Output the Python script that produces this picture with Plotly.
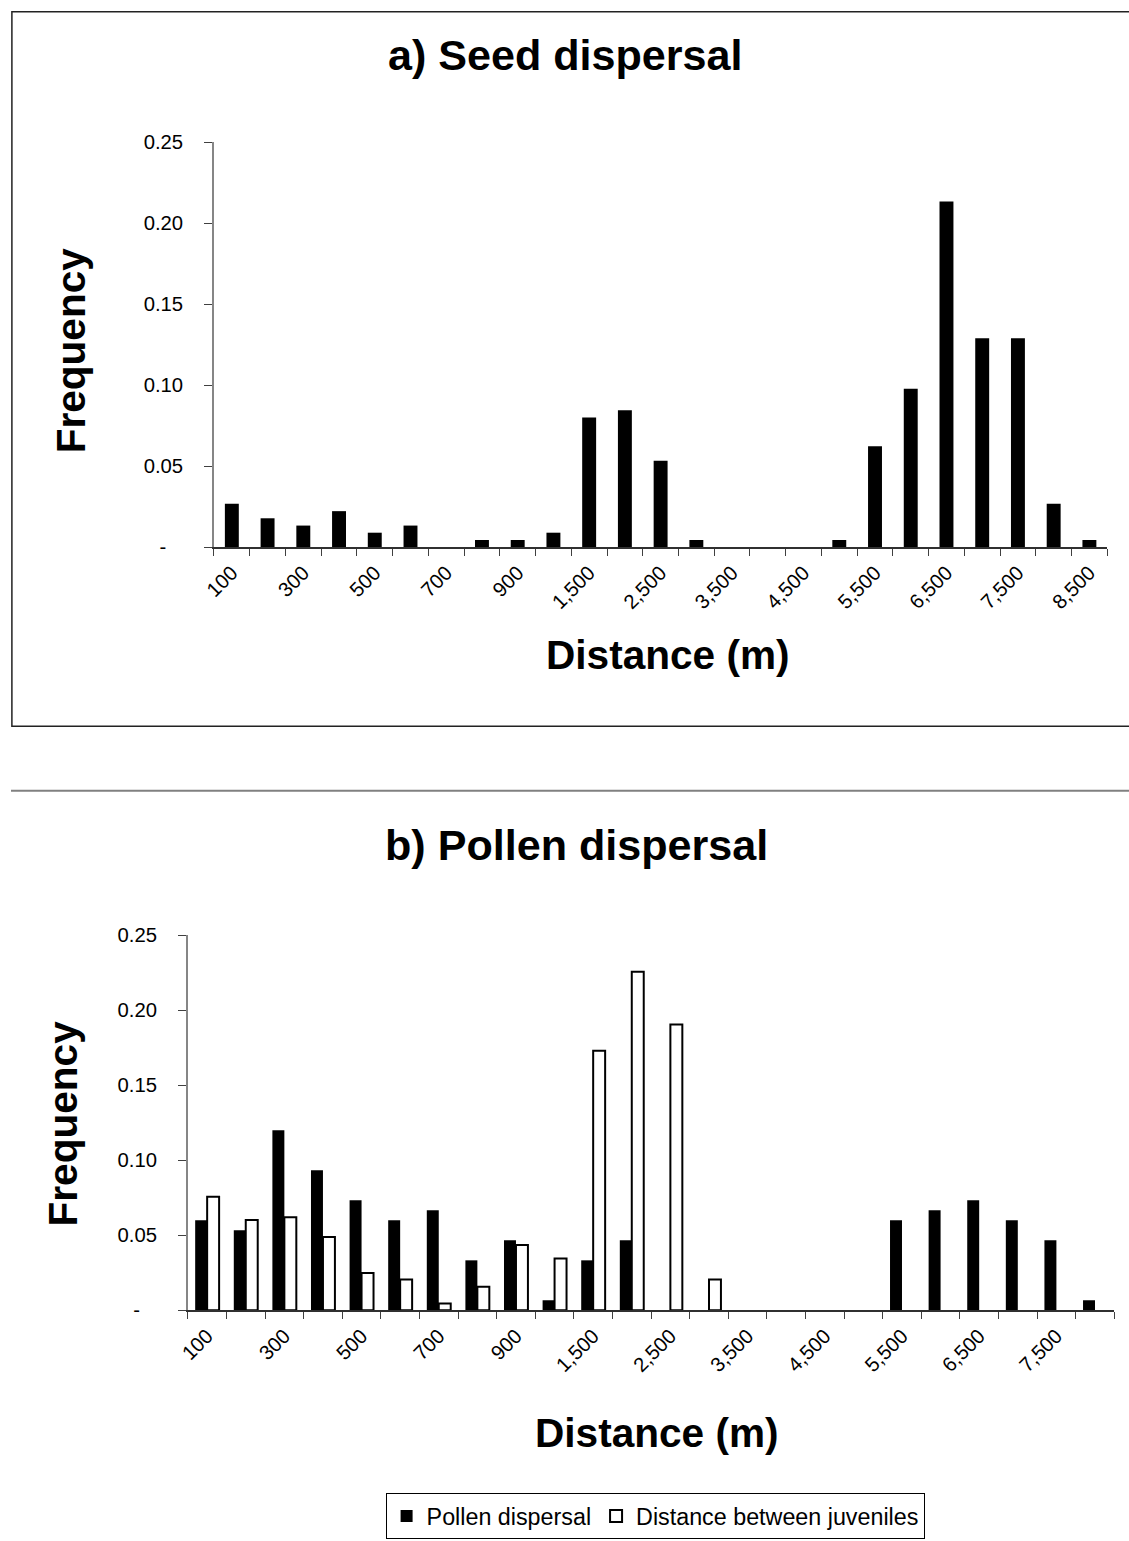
import plotly.graph_objects as go

# ---------------- data ----------------
seed_categories = ["100", "200", "300", "400", "500", "600", "700", "800", "900", "1,000",
                   "1,500", "2,000", "2,500", "3,000", "3,500", "4,000", "4,500", "5,000",
                   "5,500", "6,000", "6,500", "7,000", "7,500", "8,000", "8,500"]
seed_freq = [0.0267, 0.0178, 0.0133, 0.0222, 0.0089, 0.0133, 0.0, 0.0044, 0.0044, 0.0089,
             0.0800, 0.0844, 0.0533, 0.0044, 0.0, 0.0, 0.0, 0.0044,
             0.0622, 0.0978, 0.2133, 0.1289, 0.1289, 0.0267, 0.0044]

pollen_categories = ["100", "200", "300", "400", "500", "600", "700", "800", "900", "1,000",
                     "1,500", "2,000", "2,500", "3,000", "3,500", "4,000", "4,500", "5,000",
                     "5,500", "6,000", "6,500", "7,000", "7,500", "8,000"]
pollen_freq = [0.0600, 0.0533, 0.1200, 0.0933, 0.0733, 0.0600, 0.0667, 0.0333, 0.0467, 0.0067,
               0.0333, 0.0467, 0.0, 0.0, 0.0, 0.0, 0.0, 0.0,
               0.0600, 0.0667, 0.0733, 0.0600, 0.0467, 0.0067]
juvenile_freq = [0.0757, 0.0602, 0.0620, 0.0488, 0.0248, 0.0206, 0.0046, 0.0157, 0.0435, 0.0346,
                 0.1730, 0.2256, 0.1905, 0.0206, 0.0, 0.0, 0.0, 0.0,
                 0.0, 0.0, 0.0, 0.0, 0.0, 0.0]

y_tickvals = [0, 0.05, 0.10, 0.15, 0.20, 0.25]
y_ticktext = ["-\u00a0\u00a0\u00a0", "0.05", "0.10", "0.15", "0.20", "0.25"]

seed_ticktext = [c if i % 2 == 0 else "" for i, c in enumerate(seed_categories)]
pollen_ticktext = [c if i % 2 == 0 else "" for i, c in enumerate(pollen_categories)]

# ---------------- figure ----------------
W, H = 1129, 1541
FONT = "Arial, Liberation Sans, sans-serif"
K = 0.9855          # rendering scale compensation
OX, OY = 10, 11     # rendering offset compensation


def fs(s):
    return round(s / K, 1)


def px(pix):
    return max(0.0, (pix - OX) / K) / W


def py(pix):
    return 1 - max(0.0, (pix - OY) / K) / H


fig = go.Figure()

fig.add_trace(go.Bar(
    x=seed_categories, y=seed_freq, xaxis="x", yaxis="y",
    marker=dict(color="black", line=dict(color="black", width=0)),
    width=0.39, showlegend=False, name="Seed dispersal"))

fig.add_trace(go.Bar(
    x=pollen_categories, y=pollen_freq, xaxis="x2", yaxis="y2",
    marker=dict(color="black", line=dict(color="black", width=0)),
    name="Pollen dispersal", offsetgroup="p"))
fig.add_trace(go.Bar(
    x=pollen_categories, y=juvenile_freq, xaxis="x2", yaxis="y2",
    marker=dict(color="white",
                line=dict(color="black", width=[2 if v > 0 else 0 for v in juvenile_freq])),
    name="Distance between juveniles", offsetgroup="j"))

common_x = dict(type="category", tickson="boundaries", ticks="outside", ticklen=7,
                tickcolor="#404040", showline=True, linecolor="#303030", linewidth=1.5,
                tickangle=-45, tickfont=dict(family=FONT, size=fs(20), color="black"),
                showgrid=False, zeroline=False, tickmode="array", ticklabelstandoff=4)
common_y = dict(range=[0, 0.25], tickvals=y_tickvals, ticktext=y_ticktext, tickmode="array",
                ticks="outside", ticklen=8, tickcolor="#404040", showline=True,
                linecolor="#868686", linewidth=1.5, showgrid=False, zeroline=False,
                tickfont=dict(family=FONT, size=fs(20), color="black"), ticklabelstandoff=17)

fig.update_layout(
    width=W, height=H, margin=dict(l=0, r=0, t=0, b=0),
    paper_bgcolor="white", plot_bgcolor="white",
    barmode="group", bargap=0.38, bargroupgap=0,
    xaxis=dict(domain=[px(212), px(1101)], anchor="y",
               tickvals=seed_categories, ticktext=seed_ticktext, **common_x),
    yaxis=dict(domain=[py(547), py(142)], anchor="x", **common_y),
    xaxis2=dict(domain=[px(186), px(1108)], anchor="y2",
                tickvals=pollen_categories, ticktext=pollen_ticktext, **common_x),
    yaxis2=dict(domain=[py(1310), py(935)], anchor="x2", **common_y),
    legend=dict(orientation="h", x=px(651), y=py(1493), xanchor="center", yanchor="top",
                bordercolor="black", borderwidth=1, bgcolor="white",
                font=dict(family=FONT, size=fs(23), color="black"),
                itemwidth=30, tracegroupgap=0),
    font=dict(family=FONT, color="black"),
)

# Titles and axis titles as annotations
ann = [
    dict(text="<b>a) Seed dispersal</b>", x=px(562), y=py(55), size=42.5),
    dict(text="<b>Distance (m)</b>", x=px(664), y=py(655), size=40),
    dict(text="<b>b) Pollen dispersal</b>", x=px(573), y=py(845), size=42.5),
    dict(text="<b>Distance (m)</b>", x=px(653), y=py(1433), size=40),
]
for a in ann:
    fig.add_annotation(text=a["text"], x=a["x"], y=a["y"], xref="paper", yref="paper",
                       xanchor="center", yanchor="middle", showarrow=False,
                       font=dict(family=FONT, size=fs(a["size"]), color="black"))
for yc, xc in ((350, 70), (1123, 62)):
    fig.add_annotation(text="<b>Frequency</b>", x=px(xc), y=py(yc),
                       xref="paper", yref="paper", xanchor="center", yanchor="middle",
                       showarrow=False, textangle=-90,
                       font=dict(family=FONT, size=fs(40), color="black"))

# Panel borders
fig.add_shape(type="rect", xref="paper", yref="paper",
              x0=0.0008, x1=1.01, y0=py(726), y1=0.9995,
              line=dict(color="#222222", width=1.5))
fig.add_shape(type="line", xref="paper", yref="paper",
              x0=0, x1=1, y0=py(790.5), y1=py(790.5),
              line=dict(color="#808080", width=2))

fig.write_html(
    "out.html",
    config={"displayModeBar": False},
    post_script="document.body.style.margin='0px'; document.body.style.overflow='hidden';")
